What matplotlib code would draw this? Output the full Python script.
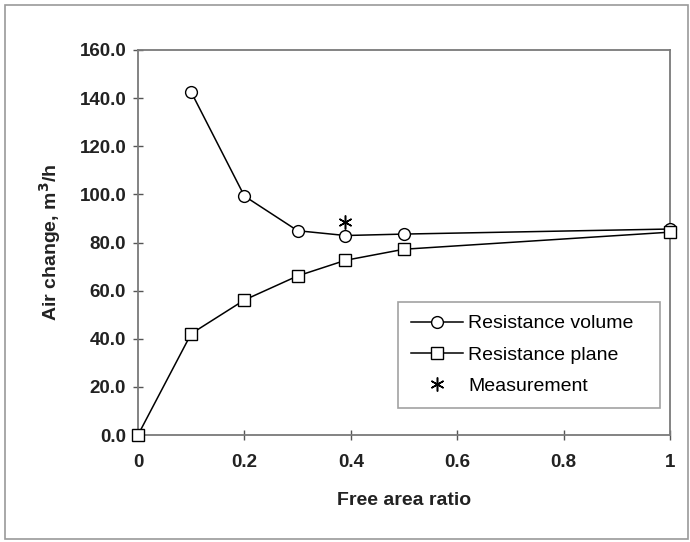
import matplotlib
matplotlib.use("Agg")
import matplotlib.pyplot as plt
from matplotlib.patches import Rectangle

plt.rcParams['font.family'] = ['Liberation Sans', 'DejaVu Sans']

# values
ratio = [0.1, 0.2, 0.3, 0.39, 0.5, 1.0]
res_volume = [142.5, 99.3, 84.9, 82.9, 83.5, 85.6]
ratio_plane = [0.0, 0.1, 0.2, 0.3, 0.39, 0.5, 1.0]
res_plane = [0.0, 42.1, 56.1, 66.1, 72.6, 77.2, 84.3]
meas_x = [0.39]
meas_y = [88.5]

yticks = [0, 20, 40, 60, 80, 100, 120, 140, 160]
xticks = [0, 0.2, 0.4, 0.6, 0.8, 1.0]
xlabels = ['0', '0.2', '0.4', '0.6', '0.8', '1']

fig = plt.figure(figsize=(6.9, 5.42), dpi=100)
ax = fig.add_axes([138/690, 1 - 435/542, 532/690, 385/542])

# outer frame around the whole chart
fig.patches.append(Rectangle((5/690, 3/542), 683/690, 534/542, transform=fig.transFigure,
                             fill=False, edgecolor='#9a9a9a', linewidth=1.2))

ax.plot(ratio, res_volume, '-o', color='black', lw=1.1, ms=8.5, mfc='white',
        mec='black', mew=1.0, label='Resistance volume', clip_on=False, zorder=3)
ax.plot(ratio_plane, res_plane, '-s', color='black', lw=1.1, ms=8.5, mfc='white',
        mec='black', mew=1.0, label='Resistance plane', clip_on=False, zorder=4)
ax.plot(meas_x, meas_y, ls='none', marker=(6, 2, 0), color='black', ms=10, mew=1.1,
        label='Measurement', zorder=5)

ax.set_xlim(0, 1)
ax.set_ylim(0, 160)
ax.set_xticks(xticks)
ax.set_xticklabels(xlabels)
ax.set_yticks(yticks)
ax.set_yticklabels([f'{v:.1f}' for v in yticks])

for s in ax.spines.values():
    s.set_color('#7a7a7a')
    s.set_linewidth(1.3)
ax.tick_params(direction='inout', length=7, width=1.0, color='#555555',
               labelsize=13.5, labelcolor='#222222')
ax.tick_params(axis='x', pad=10)
ax.tick_params(axis='y', pad=5)
for lab in ax.get_xticklabels() + ax.get_yticklabels():
    lab.set_fontweight('bold')

ax.set_xlabel('Free area ratio', fontsize=14, fontweight='bold', labelpad=15, color='#222222')
ax.set_ylabel('Air change, m$^{\\mathbf{3}}$/h', fontsize=14, fontweight='bold', labelpad=12,
              color='#222222')

leg = ax.legend(loc='upper left', bbox_to_anchor=(0.489, 0.345, 0.4925, 0.0), mode='expand',
                borderaxespad=0, fontsize=14, frameon=True, fancybox=False, edgecolor='#8a8a8a',
                handlelength=2.7, handletextpad=0.25, labelspacing=0.7, borderpad=0.65)
leg.get_frame().set_linewidth(1.2)

fig.savefig('out.png', dpi=100)
